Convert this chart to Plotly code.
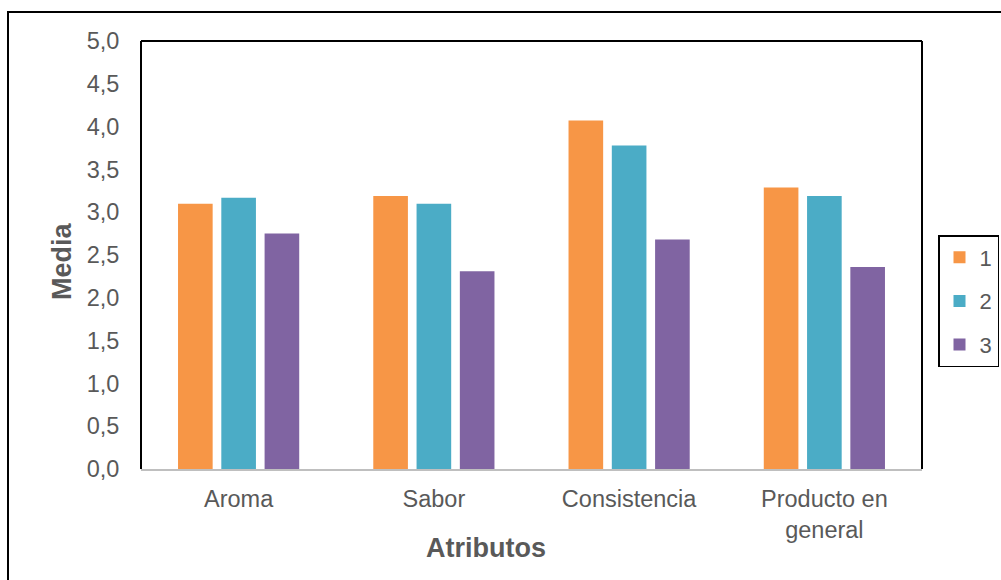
import plotly.graph_objects as go

categories = ["Aroma", "Sabor", "Consistencia", "Producto en<br>general"]
series_names = ["1", "2", "3"]
values_1 = [3.10, 3.19, 4.07, 3.29]
values_2 = [3.17, 3.10, 3.78, 3.19]
values_3 = [2.75, 2.31, 2.68, 2.36]
colors = ["#F79646", "#4BACC6", "#8064A2"]
y_ticks = [0, 0.5, 1, 1.5, 2, 2.5, 3, 3.5, 4, 4.5, 5]
y_tick_labels = ["0,0", "0,5", "1,0", "1,5", "2,0", "2,5", "3,0", "3,5", "4,0", "4,5", "5,0"]
x_title = "Atributos"
y_title = "Media"

fig = go.Figure()
for name, vals, col in zip(series_names, [values_1, values_2, values_3], colors):
    fig.add_trace(go.Bar(x=categories, y=vals, name=name, marker=dict(color=col, line=dict(width=0)),
                         legendgroup=name))

FONT = "Arial, Liberation Sans, sans-serif"
GRAY = "#595959"
L, R, T, B = 141, 922, 41, 469
PW, PH = R - L, B - T

def px_x(p):
    return (p - L) / PW

def px_y(p):
    return (B - p) / PH

fig.update_layout(
    width=1001, height=580,
    margin=dict(l=L, r=1001 - R, t=T, b=580 - B, autoexpand=False),
    paper_bgcolor="white", plot_bgcolor="white",
    barmode="group", bargap=0.335, bargroupgap=0.2,
    font=dict(family=FONT, color=GRAY, size=23.5),
    legend=dict(x=px_x(938), y=px_y(235), xanchor="left", yanchor="top",
                bordercolor="black", borderwidth=1.5, bgcolor="white",
                font=dict(size=22, color=GRAY), tracegroupgap=12,
                traceorder="grouped", itemwidth=30),
    xaxis=dict(showline=True, linecolor="#BFBFBF", linewidth=2, showgrid=False,
               ticks="outside", ticklen=8, tickcolor="rgba(0,0,0,0)",
               tickfont=dict(size=23.5, color=GRAY)),
    yaxis=dict(range=[0, 5], tickvals=y_ticks, ticktext=y_tick_labels,
               showline=False, showgrid=False, zeroline=False,
               ticks="outside", ticklen=16, tickcolor="rgba(0,0,0,0)",
               tickfont=dict(size=23.5, color=GRAY)),
)

# axis titles placed as in the reference
fig.add_annotation(text=f"<b>{x_title}</b>", xref="paper", yref="paper",
                   x=px_x(486), y=px_y(548), xanchor="center", yanchor="middle",
                   showarrow=False, font=dict(size=27, color=GRAY))
fig.add_annotation(text=f"<b>{y_title}</b>", xref="paper", yref="paper",
                   x=px_x(62), y=px_y(261), xanchor="center", yanchor="middle",
                   textangle=-90, showarrow=False, font=dict(size=27, color=GRAY))

# plot-area frame (left, top, right)
line = dict(color="black", width=2)
fig.add_shape(type="line", xref="paper", yref="paper", x0=0, x1=0, y0=0, y1=1, line=line, layer="below")
fig.add_shape(type="line", xref="paper", yref="paper", x0=0, x1=1, y0=1, y1=1, line=line, layer="below")
fig.add_shape(type="line", xref="paper", yref="paper", x0=1, x1=1, y0=0, y1=1, line=line, layer="below")
# outer chart frame
fig.add_shape(type="rect", xref="paper", yref="paper",
              x0=px_x(8), x1=px_x(1010), y0=px_y(590), y1=px_y(12),
              line=dict(color="black", width=2), layer="below")

fig.write_html("out.html")
